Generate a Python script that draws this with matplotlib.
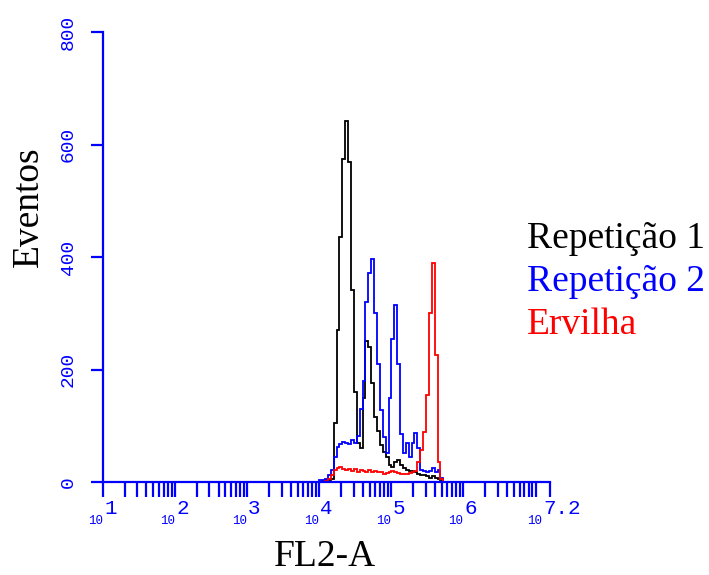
import numpy as np
import matplotlib
matplotlib.use("Agg")
import matplotlib.pyplot as plt
import matplotlib.transforms as mtransforms

# histogram bins (log10 scale) and counts
bin_lo = 4.0
bin_w = 0.04

rep1 = [0, 2, 3, 4, 6, 105, 271, 435, 574, 642, 569, 342, 160, 70, 60,
        150, 250, 240, 176, 116, 90, 66, 53, 45, 30, 27, 35, 40, 30, 25,
        22, 20, 20, 18, 15, 12, 12, 10, 8, 10, 8, 6, 4, 0]
rep2 = [3, 4, 6, 12, 22, 45, 62, 68, 72, 70, 68, 75, 70, 82, 130,
        180, 320, 372, 396, 300, 210, 128, 80, 52, 150, 255, 315, 210, 85, 52,
        70, 45, 70, 87, 60, 22, 20, 18, 20, 25, 18, 22, 8, 0]
ervilha = [0, 0, 2, 6, 12, 22, 25, 26, 24, 22, 24, 20, 24, 18, 22,
           20, 18, 22, 18, 20, 17, 18, 15, 16, 18, 20, 18, 16, 14, 14,
           15, 16, 18, 20, 35, 57, 89, 155, 300, 390, 225, 35, 5, 0]

series_names = ["Repetição 1", "Repetição 2", "Ervilha"]
series_colors = ["black", "#0000FF", "#FF0000"]

y_ticks = [0, 200, 400, 600, 800]
x_major_exp = [1, 2, 3, 4, 5, 6, 7.2]
x_major_lbl = ["1", "2", "3", "4", "5", "6", "7.2"]

blue = "#0000FF"
mono = "Liberation Mono"
serif = "Liberation Serif"

fig = plt.figure(figsize=(7.09, 5.75), dpi=100)
ax = fig.add_axes([103 / 709, 1 - 482 / 575, 447 / 709, 450 / 575])

for vals, col in zip([rep1, rep2, ervilha], series_colors):
    edges = 10 ** (bin_lo + bin_w * np.arange(len(vals) + 1))
    ax.stairs(vals, edges, color=col, lw=1.3)

ax.set_xscale("log")
ax.set_xlim(10 ** 1, 10 ** 7.2)
ax.set_ylim(0, 800)

for s in ["top", "right"]:
    ax.spines[s].set_visible(False)
for s in ["left", "bottom"]:
    ax.spines[s].set_color(blue)
    ax.spines[s].set_linewidth(1.6)

# y axis
ax.set_yticks(y_ticks)
ax.set_yticklabels([str(v) for v in y_ticks], rotation=90, va="center",
                   fontfamily=mono, fontsize=14, color=blue)
ax.tick_params(axis="y", direction="out", length=9, width=1.6,
               color=blue, pad=10)

# x axis: decades + minor ticks
major = [10 ** e for e in x_major_exp]
minor = [m * 10 ** k for k in range(1, 7) for m in range(2, 10)] + [10 ** 7]
ax.set_xticks(major)
ax.set_xticks(minor, minor=True)
ax.set_xticklabels([])
ax.set_xticklabels([], minor=True)
ax.tick_params(axis="x", which="both", direction="out", length=11,
               width=1.6, color=blue)

trans = mtransforms.blended_transform_factory(ax.transData, ax.transAxes)
for val, lbl in zip(major, x_major_lbl):
    shift = -8 if len(lbl) > 1 else 0
    t10 = mtransforms.offset_copy(trans, fig=fig, x=shift, y=-39, units="dots")
    tex = mtransforms.offset_copy(trans, fig=fig, x=shift + 1, y=-27, units="dots")
    ax.text(val, 0, "10", transform=t10, ha="right", va="center",
            fontfamily=mono, fontsize=9, color=blue)
    ax.text(val, 0, lbl, transform=tex, ha="left", va="center",
            fontfamily=mono, fontsize=15, color=blue)

# axis titles
fig.text(325 / 709, 1 - 566 / 575, "FL2-A", ha="center", va="baseline",
         fontfamily=serif, fontsize=27, color="black")
fig.text(29 / 709, 1 - 207 / 575, "Eventos", ha="center", va="center",
         rotation=90, fontfamily=serif, fontsize=27, color="black")

# legend as coloured text
for name, col, yb in zip(series_names, series_colors, [248, 291, 334]):
    fig.text(527 / 709, 1 - yb / 575, name, ha="left", va="baseline",
             fontfamily=serif, fontsize=27, color=col)

fig.savefig("out.png", dpi=100)
